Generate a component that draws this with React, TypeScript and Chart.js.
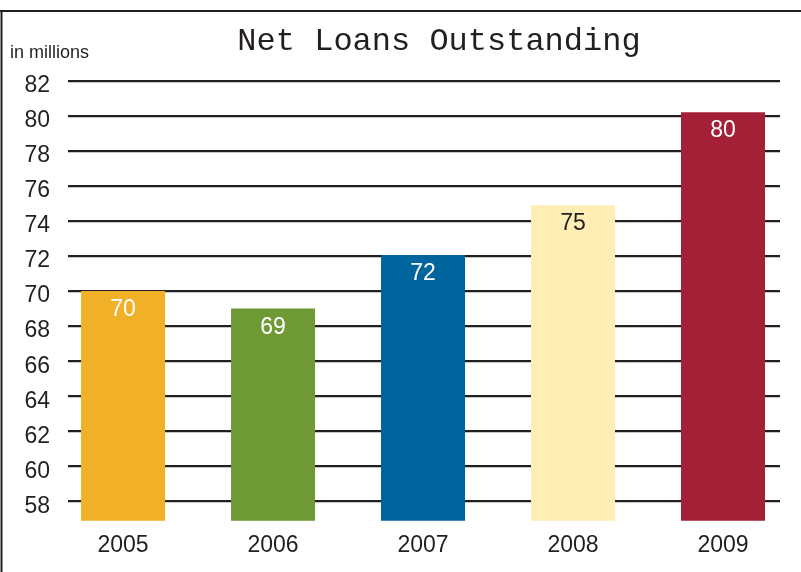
import React, { useEffect, useRef } from "react";
import { Chart, registerables } from "chart.js";

Chart.register(...registerables);

// ---- data ----
const years = [2005, 2006, 2007, 2008, 2009];
const loans = [70, 69, 72.05, 74.9, 80.2];
const valueLabels = ["70", "69", "72", "75", "80"];
const barColors = ["#F0B128", "#6E9934", "#00659D", "#FEEDB5", "#A42037"];
const valueLabelColors = ["#FFFFFF", "#FFFFFF", "#FFFFFF", "#231F20", "#FFFFFF"];
const yTicks = [58, 60, 62, 64, 66, 68, 70, 72, 74, 76, 78, 80, 82];
const titleText = "Net Loans Outstanding";
const unitText = "in millions";

const INK = "#231F20";
const SANS = '"Liberation Sans", Arial, Helvetica, sans-serif';
const MONO = '"Courier New", Courier, "Liberation Mono", monospace';

const decorPlugin = {
  id: "decor",
  beforeDraw(chart: any) {
    const { ctx, width, height } = chart;
    ctx.save();
    ctx.fillStyle = "#FFFFFF";
    ctx.fillRect(0, 0, width, height);
    ctx.restore();
  },
  afterDatasetsDraw(chart: any) {
    const { ctx } = chart;
    const meta = chart.getDatasetMeta(0);
    ctx.save();
    ctx.font = `23px ${SANS}`;
    ctx.textAlign = "center";
    ctx.textBaseline = "alphabetic";
    meta.data.forEach((bar: any, i: number) => {
      ctx.fillStyle = valueLabelColors[i];
      ctx.fillText(valueLabels[i], bar.x, bar.y + 25);
    });
    ctx.restore();
  },
  afterDraw(chart: any) {
    const { ctx, width, height, chartArea } = chart;
    ctx.save();
    // title
    ctx.fillStyle = INK;
    ctx.font = `32px ${MONO}`;
    ctx.textAlign = "center";
    ctx.textBaseline = "alphabetic";
    ctx.fillText(titleText, (chartArea.left + chartArea.right) / 2 + 15, 50);
    // unit
    ctx.font = `18px ${SANS}`;
    ctx.textAlign = "left";
    ctx.fillText(unitText, 10, 58);
    // frame
    ctx.strokeStyle = INK;
    ctx.lineWidth = 2;
    ctx.beginPath();
    ctx.moveTo(0, 11);
    ctx.lineTo(width, 11);
    ctx.moveTo(1.5, 11);
    ctx.lineTo(1.5, height);
    ctx.stroke();
    ctx.restore();
  },
};

export default function App() {
  const ref = useRef<HTMLCanvasElement | null>(null);

  useEffect(() => {
    if (!ref.current) return;
    const chart = new Chart(ref.current, {
      type: "bar",
      data: {
        datasets: [
          {
            data: years.map((y, i) => ({ x: y, y: loans[i] })),
            backgroundColor: barColors,
            borderWidth: 0,
            categoryPercentage: 0.8,
            barPercentage: 0.7,
          } as any,
        ],
      },
      options: {
        animation: false,
        responsive: false,
        devicePixelRatio: 1,
        layout: { padding: { left: 0, right: 21, top: 80.7, bottom: 0 } },
        plugins: {
          legend: { display: false },
          title: { display: false },
          tooltip: { enabled: false },
        },
        scales: {
          x: {
            type: "linear",
            offset: false,
            bounds: "data",
            min: 2004.633,
            max: 2009.38,
            afterBuildTicks: (axis: any) => {
              axis.ticks = years.map((v) => ({ value: v }));
            },
            afterFit: (scale: any) => {
              scale.height = 51.3;
            },
            grid: { display: false, drawTicks: false, offset: false },
            border: { display: false },
            ticks: {
              autoSkip: false,
              maxRotation: 0,
              padding: 11,
              color: INK,
              font: { family: SANS, size: 23 },
              callback: (v: any) => String(v),
            },
          },
          y: {
            bounds: "data",
            min: 56.9,
            max: 82,
            afterBuildTicks: (axis: any) => {
              axis.ticks = yTicks.map((v) => ({ value: v }));
            },
            afterFit: (scale: any) => {
              scale.width = 68;
            },
            grid: { color: INK, lineWidth: 2.2, drawTicks: false },
            border: { display: false },
            ticks: {
              padding: 18,
              labelOffset: 5,
              color: INK,
              font: { family: SANS, size: 23 },
              callback: (v: any) => String(v),
            },
          },
        },
      },
      plugins: [decorPlugin],
    } as any);
    return () => chart.destroy();
  }, []);

  return (
    <div style={{ position: "fixed", left: 0, top: 0, width: 801, height: 572, background: "#fff" }}>
      <canvas ref={ref} width={801} height={572} style={{ display: "block", width: 801, height: 572 }} />
    </div>
  );
}
